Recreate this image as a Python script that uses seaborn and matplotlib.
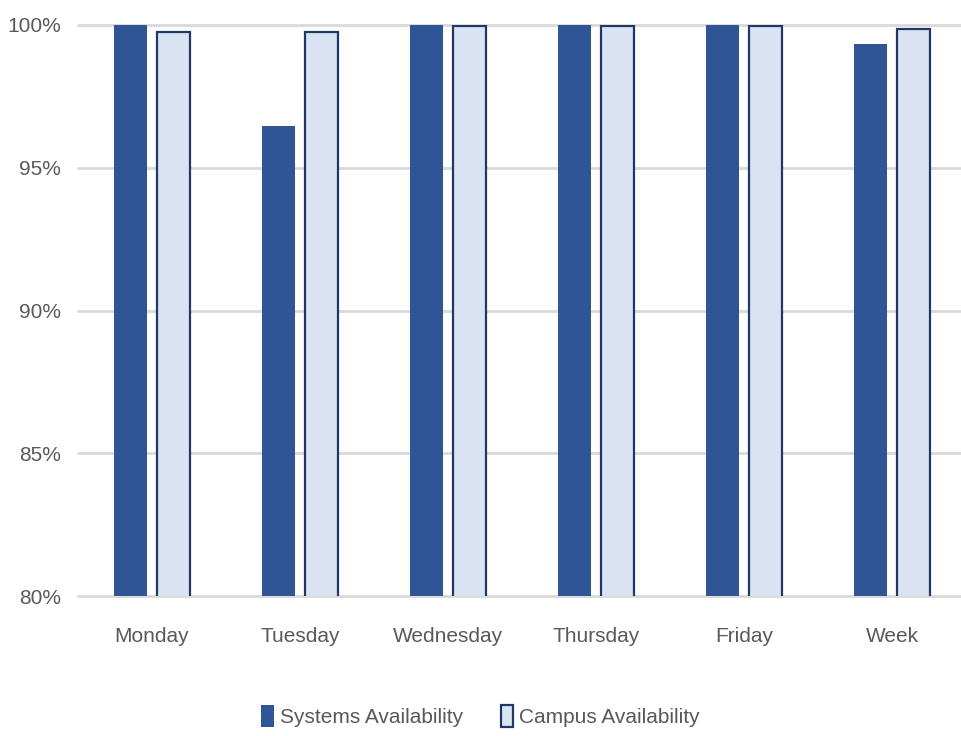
import matplotlib
matplotlib.use("Agg")
import matplotlib.pyplot as plt
import seaborn as sns
import pandas as pd
from matplotlib.ticker import FuncFormatter
from matplotlib.patches import Patch

days = ["Monday", "Tuesday", "Wednesday", "Thursday", "Friday", "Week"]
systems = [100.0, 96.45, 100.0, 100.0, 100.0, 99.35]
campus = [99.75, 99.75, 99.97, 99.98, 99.98, 99.85]
series_names = ["Systems Availability", "Campus Availability"]
yticks = [80, 85, 90, 95, 100]

df = pd.DataFrame({
    "day": days * 2,
    "value": systems + campus,
    "series": [series_names[0]] * len(days) + [series_names[1]] * len(days),
})

sns.set_theme(style="white")
plt.rcParams["font.family"] = ["Liberation Sans", "DejaVu Sans"]

fig = plt.figure(figsize=(9.61, 7.36), dpi=100)
ax = fig.add_axes([78 / 961, 1 - 596 / 736, 888 / 961, (596 - 25) / 736])

palette = {series_names[0]: "#2F5597", series_names[1]: "#DAE3F3"}
sns.barplot(data=df, x="day", y="value", hue="series", palette=palette,
            width=0.575, gap=0.22, ax=ax, legend=False, saturation=1)

for patch, ser in zip(ax.patches, df["series"]):
    if ser == series_names[1]:
        patch.set_edgecolor("#1F3864")
        patch.set_linewidth(1.6)
    else:
        patch.set_edgecolor("#2F5597")
        patch.set_linewidth(0)

ax.set_ylim(80, 100)
ax.set_xlim(-0.5, 5.5)
ax.set_yticks(yticks)
ax.yaxis.set_major_formatter(FuncFormatter(lambda v, p: f"{v:.0f}%"))
ax.grid(axis="y", color="#D9D9D9", linewidth=2)
for gl in ax.get_ygridlines():
    gl.set_clip_on(False)
ax.set_axisbelow(True)
for s in ax.spines.values():
    s.set_visible(False)
ax.set_xlabel("")
ax.set_ylabel("")
ax.tick_params(axis="both", length=0, labelsize=15, labelcolor="#595959")
ax.tick_params(axis="x", pad=22)
ax.tick_params(axis="y", pad=12)

handles = [Patch(facecolor="#2F5597", edgecolor="#2F5597", linewidth=0),
           Patch(facecolor="#DAE3F3", edgecolor="#1F3864", linewidth=1.6)]
leg = fig.legend(handles, series_names, loc="center", bbox_to_anchor=(0.5, 1 - 716 / 736),
                 ncol=2, frameon=False, fontsize=15, handlelength=0.6, handleheight=1.2,
                 handletextpad=0.3, columnspacing=1.8)
for t in leg.get_texts():
    t.set_color("#595959")

fig.savefig("out.png", dpi=100)
